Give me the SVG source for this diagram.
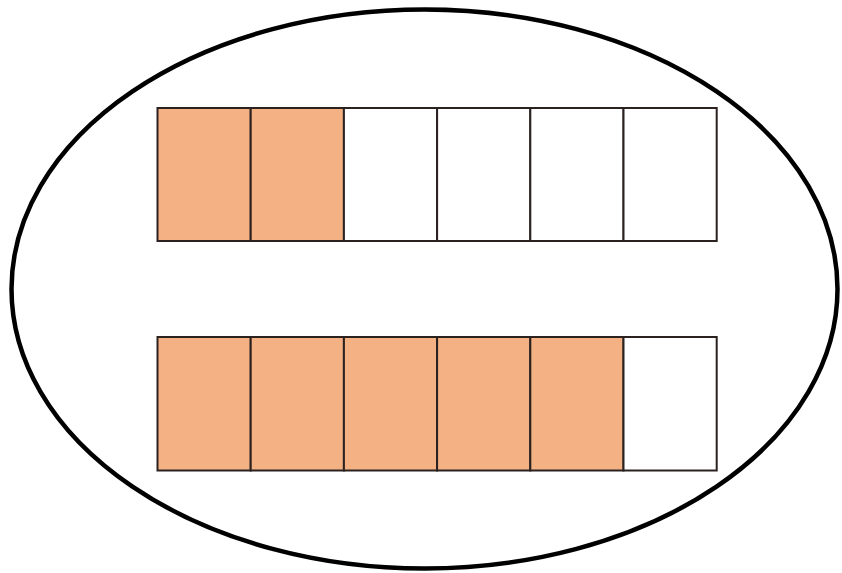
<svg xmlns="http://www.w3.org/2000/svg" width="842" height="573" viewBox="0 0 842 573">
<style>
.bg{fill:#fff}
.oval{fill:none;stroke:#000;stroke-width:4.5}
.c{stroke:#2b2220;stroke-width:2}
.f{fill:#F4B183}
.e{fill:#fff}
</style>
<rect class="bg" x="0" y="0" width="842" height="573"/>
<g id="oval"><ellipse class="oval" cx="424.5" cy="289" rx="413" ry="279.5"/></g>
<g id="row1">
<rect class="c f" x="157.5" y="108" width="93.2" height="133"/>
<rect class="c f" x="250.7" y="108" width="93.2" height="133"/>
<rect class="c e" x="343.9" y="108" width="93.2" height="133"/>
<rect class="c e" x="437.1" y="108" width="93.2" height="133"/>
<rect class="c e" x="530.3" y="108" width="93.2" height="133"/>
<rect class="c e" x="623.5" y="108" width="93.2" height="133"/>
</g>
<g id="row2">
<rect class="c f" x="157.5" y="337" width="93.2" height="133.5"/>
<rect class="c f" x="250.7" y="337" width="93.2" height="133.5"/>
<rect class="c f" x="343.9" y="337" width="93.2" height="133.5"/>
<rect class="c f" x="437.1" y="337" width="93.2" height="133.5"/>
<rect class="c f" x="530.3" y="337" width="93.2" height="133.5"/>
<rect class="c e" x="623.5" y="337" width="93.2" height="133.5"/>
</g>
</svg>
